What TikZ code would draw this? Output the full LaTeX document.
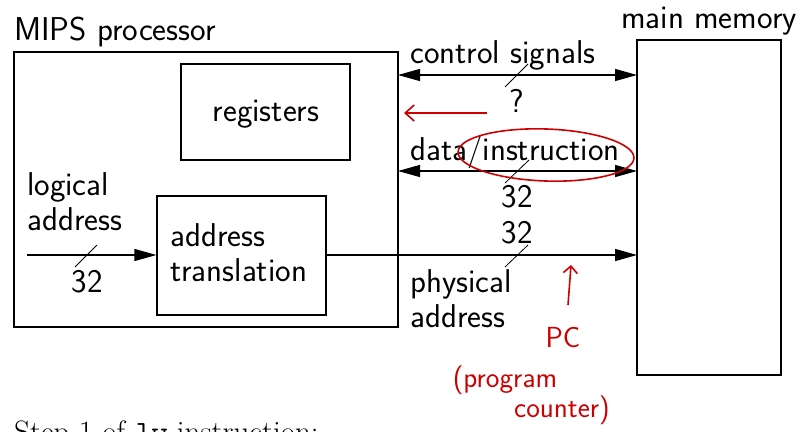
\documentclass[tikz,border=0pt]{standalone}
\usepackage{fontspec}
\usetikzlibrary{arrows.meta,shapes.geometric}
\begin{document}
\begin{tikzpicture}[x=1pt,y=-1pt,
  every node/.style={font=\sffamily\fontsize{33}{35}\selectfont, inner sep=0pt},
  box/.style={draw, line width=1.2pt},
  wire/.style={line width=1.2pt, -{Triangle[length=22pt,width=12pt]}},
  bus/.style={line width=1.2pt, {Triangle[length=22pt,width=12pt]}-{Triangle[length=22pt,width=12pt]}},
  slash/.style={line width=0.8pt},
  lbl/.style={anchor=base west, align=left},
  ann/.style={red!80!black, line width=1.6pt},
  anntext/.style={red!80!black, font=\sffamily\fontsize{29}{32}\selectfont}]
\useasboundingbox (0,0) rectangle (800,431);
\clip (0,0) rectangle (800,431);
% boxes
\node[box, minimum width=384pt, minimum height=275pt] (proc) at (206,189.5) {};
\node[box, minimum width=169pt, minimum height=96pt] (regs) at (265.5,112) {};
\node at (266,114) {registers};
\node[box, minimum width=169pt, minimum height=119pt] (at) at (241.5,255.5) {};
\node[lbl] (attxt) at (170,281) {address\\translation};
\node[box, minimum width=144pt, minimum height=335pt] (mem) at (709,207.5) {};
\node[lbl] (proclbl) at (14,40) {MIPS processor};
\node[anchor=base] (memlbl) at (709,28) {main memory};
% control signals
\coordinate (cs1) at (398,75);
\coordinate (cs2) at (637,75);
\draw[bus] (cs1) -- (cs2);
\node[lbl] (cstxt) at (410,63) {control signals};
\coordinate (s1a) at (505,87); \coordinate (s1b) at (528,64);
\draw[slash] (s1a) -- (s1b);
\node (q) at (517,101) {?};
% data/instruction
\coordinate (di1) at (398,171);
\coordinate (di2) at (637,171);
\draw[bus] (di1) -- (di2);
\node[lbl] (ditxt) at (410,160) {data/instruction};
\coordinate (s2a) at (505,183); \coordinate (s2b) at (529,160);
\draw[slash] (s2a) -- (s2b);
\node (n32a) at (517,197) {32};
% physical address
\coordinate (pa2) at (637,255);
\draw[wire] (at.east |- pa2) -- (pa2);
\coordinate (s3a) at (505,267); \coordinate (s3b) at (528,245);
\draw[slash] (s3a) -- (s3b);
\node (n32b) at (517,233) {32};
\node[lbl] (patxt) at (410,327) {physical\\address};
% logical address
\coordinate (la1) at (27,255);
\draw[wire] (la1) -- (at.west |- la1);
\coordinate (s4a) at (75,267); \coordinate (s4b) at (97,245);
\draw[slash] (s4a) -- (s4b);
\node (n32c) at (87,282) {32};
\node[lbl] (latxt) at (27,230) {logical\\address};
% red annotations
\coordinate (ra1) at (487,113); \coordinate (ra2) at (404,113);
\draw[ann, -{Straight Barb[length=9pt,width=16pt]}] (ra1) -- (ra2);
\node[ann, draw, ellipse, minimum width=176pt, minimum height=52pt, rotate=-2] (circ) at (546,155) {};
\coordinate (pc1) at (568,305); \coordinate (pc2) at (571,265);
\draw[ann, -{Straight Barb[length=7pt,width=14pt]}] (pc1) -- (pc2);
\node[anntext] (pc) at (563,338) {PC};
\node[anntext] (prog) at (505,380) {(program};
\node[anntext] (cnt) at (562,410) {counter)};
% bottom caption
\node[anchor=base west, font=\rmfamily\fontsize{31}{34}\selectfont] (step) at (14,442) {Step 1 of \texttt{lw} instruction:};
\end{tikzpicture}
\end{document}
